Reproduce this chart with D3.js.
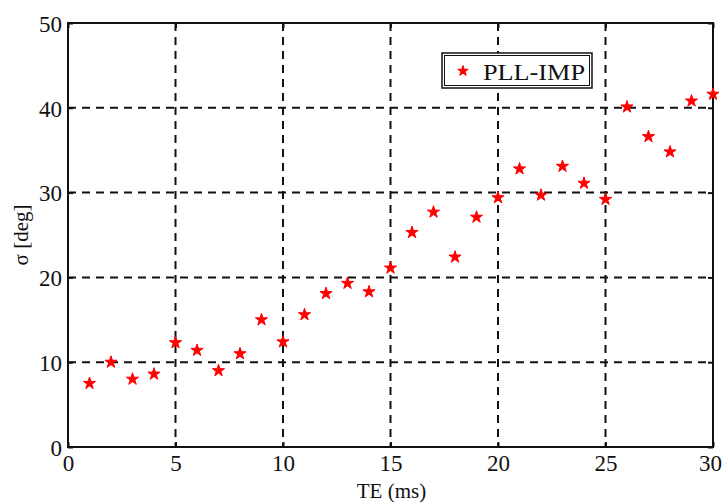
<!DOCTYPE html>
<html>
<head>
<meta charset="utf-8">
<script src="https://cdn.jsdelivr.net/npm/d3@7"></script>
<style>
  html, body { margin: 0; padding: 0; background: #fff; }
  svg { display: block; }
  text { font-family: "Liberation Serif", "Times New Roman", serif; fill: #111; }
</style>
</head>
<body>
<svg id="chart" width="723" height="503"></svg>
<script>
// Echo time (ms) and measured phase deviation (deg)
const teValues = [1, 2, 3, 4, 5, 6, 7, 8, 9, 10, 11, 12, 13, 14, 15,
                  16, 17, 18, 19, 20, 21, 22, 23, 24, 25, 26, 27, 28, 29, 30];
const sigmaValues = [7.5, 10.0, 8.0, 8.6, 12.3, 11.4, 9.0, 11.0, 15.0, 12.4,
                     15.6, 18.1, 19.3, 18.3, 21.1, 25.3, 27.7, 22.4, 27.1, 29.4,
                     32.8, 29.7, 33.1, 31.1, 29.2, 40.1, 36.6, 34.8, 40.8, 41.6];
const xTicks = [0, 5, 10, 15, 20, 25, 30];
const yTicks = [0, 10, 20, 30, 40, 50];
const seriesName = "PLL-IMP";
const xTitle = "TE (ms)";
const yTitle = "σ [deg]";

const svg = d3.select("#chart");
const plot = { left: 68, right: 713, top: 23, bottom: 447 };

const x = d3.scaleLinear().domain([0, 30]).range([plot.left, plot.right]);
const y = d3.scaleLinear().domain([0, 50]).range([plot.bottom, plot.top]);

// dashed grid
const grid = svg.append("g").attr("stroke", "#111").attr("stroke-width", 2)
  .attr("stroke-dasharray", "8,6");
grid.selectAll("line.vx").data(xTicks.filter(t => t > 0 && t < 30)).join("line")
  .attr("x1", d => x(d)).attr("x2", d => x(d))
  .attr("y1", plot.top).attr("y2", plot.bottom);
grid.selectAll("line.hy").data(yTicks.filter(t => t > 0 && t < 50)).join("line")
  .attr("x1", plot.left).attr("x2", plot.right)
  .attr("y1", d => y(d)).attr("y2", d => y(d));

// axes with inward ticks
const fontSize = 23;
const xAxis = svg.append("g").attr("transform", `translate(0,${plot.bottom})`)
  .call(d3.axisBottom(x).tickValues(xTicks).tickSize(-5).tickPadding(8).tickFormat(d3.format("d")));
const yAxis = svg.append("g").attr("transform", `translate(${plot.left},0)`)
  .call(d3.axisLeft(y).tickValues(yTicks).tickSize(-5).tickPadding(6).tickFormat(d3.format("d")));
const xAxisTop = svg.append("g").attr("transform", `translate(0,${plot.top})`)
  .call(d3.axisTop(x).tickValues(xTicks).tickSize(-5).tickFormat(""));
const yAxisRight = svg.append("g").attr("transform", `translate(${plot.right},0)`)
  .call(d3.axisRight(y).tickValues(yTicks).tickSize(-5).tickFormat(""));

[xAxis, yAxis, xAxisTop, yAxisRight].forEach(g => {
  g.select(".domain").remove();
  g.selectAll("line").attr("stroke", "#111").attr("stroke-width", 2);
  g.selectAll("text").attr("font-size", fontSize)
    .attr("font-family", "Liberation Serif, serif").attr("fill", "#111");
});
xAxis.selectAll("text").attr("dy", "0.71em")
  .attr("dx", d => d === 30 ? -3 : 0);
yAxis.selectAll("text").attr("dy", "0.36em");

// frame
svg.append("rect")
  .attr("x", plot.left).attr("y", plot.top)
  .attr("width", plot.right - plot.left).attr("height", plot.bottom - plot.top)
  .attr("fill", "none").attr("stroke", "#111").attr("stroke-width", 2);

// data markers
const star = d3.symbol().type(d3.symbolStar).size(46);
svg.append("g").selectAll("path").data(teValues).join("path")
  .attr("d", star)
  .attr("transform", (d, i) => `translate(${x(d)},${y(sigmaValues[i])})`)
  .attr("fill", "#ff0000").attr("stroke", "#ff0000").attr("stroke-width", 1);

// axis titles
svg.append("text")
  .attr("x", (plot.left + plot.right) / 2 + 1).attr("y", 498)
  .attr("text-anchor", "middle").attr("font-size", 21)
  .text(xTitle);
svg.append("text")
  .attr("transform", `translate(28,${(plot.top + plot.bottom) / 2}) rotate(-90)`)
  .attr("text-anchor", "middle").attr("font-size", 21)
  .text(yTitle);

// legend
const lg = svg.append("g");
lg.append("rect").attr("x", 442).attr("y", 53).attr("width", 150).attr("height", 35)
  .attr("fill", "#fff").attr("stroke", "#111").attr("stroke-width", 1.5);
lg.append("rect").attr("x", 444.5).attr("y", 55.5).attr("width", 145).attr("height", 30)
  .attr("fill", "none").attr("stroke", "#111").attr("stroke-width", 1);
lg.append("path").attr("d", d3.symbol().type(d3.symbolStar).size(34))
  .attr("transform", "translate(463,71)").attr("fill", "#ff0000").attr("stroke", "#ff0000");
lg.append("text").attr("x", 483).attr("y", 80).attr("font-size", 24)
  .attr("textLength", 102).attr("lengthAdjust", "spacingAndGlyphs")
  .text(seriesName);
</script>
</body>
</html>
